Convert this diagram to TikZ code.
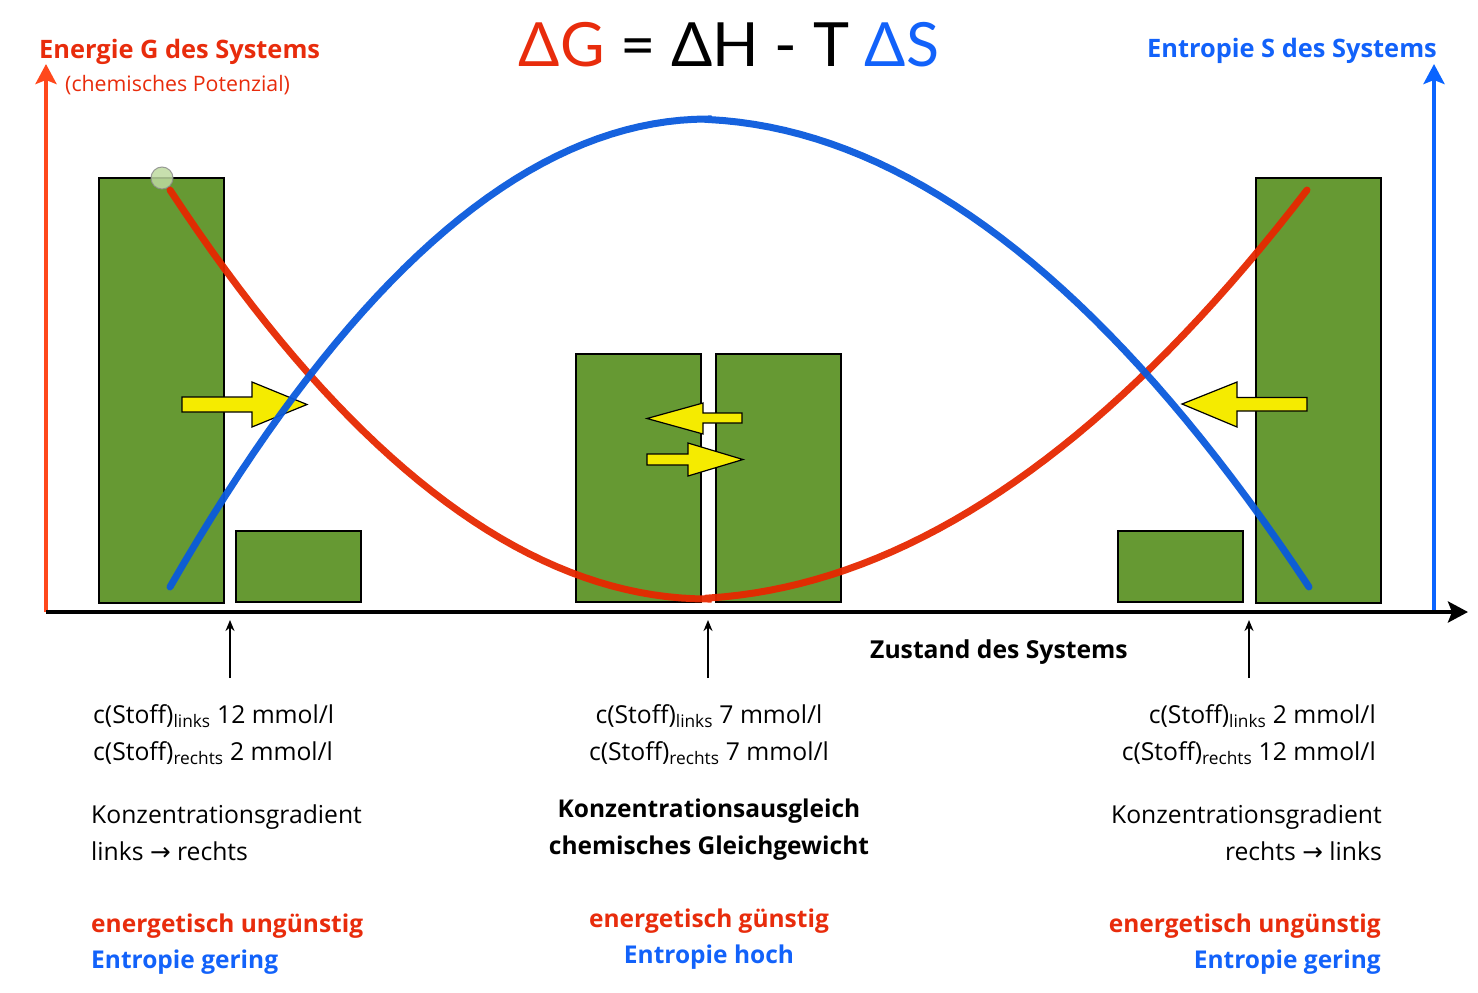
\documentclass[tikz,border=0pt]{standalone}
\usepackage{fontspec}
\setmainfont{Open Sans}
\newfontfamily\symfont{DejaVu Sans}
\newfontfamily\titlefont{Lato}
\usetikzlibrary{arrows.meta}

\definecolor{gred}{RGB}{232,44,12}
\definecolor{sblue}{RGB}{18,98,250}
\definecolor{axisred}{RGB}{255,72,28}
\definecolor{axisblue}{RGB}{10,100,255}
\definecolor{curvered}{RGB}{230,40,0}
\definecolor{curveblue}{RGB}{10,90,220}
\definecolor{boxgreen}{RGB}{102,153,51}
\definecolor{arrowyellow}{RGB}{245,235,0}

\begin{document}
\begin{tikzpicture}[x=1pt, y=-1pt,
  axis/.style={line width=4.5pt, -{Stealth[length=20pt, width=21pt, inset=4pt]}},
  pointer/.style={line width=1.6pt, -{Stealth[length=11pt, width=9pt]}},
  box/.style={draw=black, line width=1.2pt, fill=boxgreen},
  flowarrow/.style={draw=black, line width=1.2pt, fill=arrowyellow, line join=miter},
  curve/.style={line width=7pt, line cap=round, opacity=0.95},
  txt/.style={inner sep=0pt, font=\fontsize{24.7}{30}\selectfont},
  btxt/.style={inner sep=0pt, font=\fontsize{24.5}{30}\selectfont\bfseries},
  head/.style={inner sep=0pt, font=\fontsize{25.4}{30}\selectfont\bfseries}]
\useasboundingbox (0,0) rectangle (1478,993);

% Axes
\coordinate (origin) at (46,612);
\coordinate (gtop) at (46,64);
\coordinate (sbot) at (1434,612);
\coordinate (stop) at (1434,64);
\coordinate (xend) at (1468,612);
\draw[axis, axisred] (origin) -- (gtop); % G axis
\draw[axis, axisblue] (sbot) -- (stop); % S axis
\draw[axis, black] (origin) -- (xend); % state axis

% Compartments
\draw[box] (99,178) rectangle (224,603);
\draw[box] (236,531) rectangle (361,602);
\draw[box] (576,354) rectangle (701,602);
\draw[box] (716,354) rectangle (841,602);
\draw[box] (1118,531) rectangle (1243,602);
\draw[box] (1256,178) rectangle (1381,603);

% Flow of the substance
\draw[flowarrow] (182,397) -- (252,397) -- (252,382) -- (307,404.5) -- (252,427) -- (252,412) -- (182,412) -- cycle;
\draw[flowarrow] (1307,397.5) -- (1237,397.5) -- (1237,382) -- (1182,404) -- (1237,427) -- (1237,411) -- (1307,411) -- cycle;
\draw[flowarrow] (742,413) -- (703,413) -- (703,403) -- (647,418.5) -- (703,434) -- (703,423) -- (742,423) -- cycle;
\draw[flowarrow] (647,454) -- (688,454) -- (688,443) -- (743,459.5) -- (688,476) -- (688,465) -- (647,465) -- cycle;

% Curves G and S
\draw[curve, curvered] plot[domain=170:708, samples=40] (\x, {599-409*((\x-708)/538)*((\x-708)/538)})
  -- plot[domain=708:1307, samples=40] (\x, {599-409*((\x-678)/629)*((\x-678)/629)});
\draw[curve, curveblue] plot[domain=170:708, samples=40] (\x, {119+468*((\x-708)/538)*((\x-708)/538)})
  -- plot[domain=708:1309, samples=40] (\x, {119+468*((\x-688)/621)*((\x-688)/621)});
\node[circle, draw=black!45, line width=1pt, fill={rgb,255:red,190;green,218;blue,160}, opacity=0.85, minimum size=22pt, inner sep=0pt] (startdot) at (162,178) {};

% Headings
\node[inner sep=0pt, anchor=base, font=\titlefont\fontsize{61}{64}\selectfont] (formula) at (729,66) {\textcolor{gred}{ΔG} = ΔH - T \textcolor{sblue}{ΔS}};
\node[head, gred, anchor=base west] (glabel) at (39,58) {Energie G des Systems};
\node[inner sep=0pt, gred, anchor=base west, font=\fontsize{21.3}{26}\selectfont] (gsub) at (65,91) {(chemisches Potenzial)};
\node[head, sblue, anchor=base east] (slabel) at (1437,57) {Entropie S des Systems};
\node[btxt, anchor=base west, font=\fontsize{24.7}{30}\selectfont\bfseries] (xlabel) at (870,658) {Zustand des Systems};

% Markers on the axis
\coordinate (markL) at (230,620);
\coordinate (footL) at (230,678);
\coordinate (markM) at (708,620);
\coordinate (footM) at (708,678);
\coordinate (markR) at (1249,620);
\coordinate (footR) at (1249,678);
\draw[pointer] (footL) -- (markL);
\draw[pointer] (footM) -- (markM);
\draw[pointer] (footR) -- (markR);

% Left state
\node[txt, anchor=base west] (concL1) at (93,723) {c(Stoff)\textsubscript{links} 12 mmol/l};
\node[txt, anchor=base west] (concL2) at (93,760) {c(Stoff)\textsubscript{rechts} 2 mmol/l};
\node[txt, anchor=base west] (gradL1) at (91,823) {Konzentrationsgradient};
\node[txt, anchor=base west] (gradL2) at (91,860) {links {\symfont →} rechts};
\node[btxt, gred, anchor=base west] (energyL) at (91,932) {energetisch ungünstig};
\node[btxt, sblue, anchor=base west] (entropyL) at (91,968) {Entropie gering};

% Middle state
\node[txt, anchor=base] (concM1) at (709,723) {c(Stoff)\textsubscript{links} 7 mmol/l};
\node[txt, anchor=base] (concM2) at (709,760) {c(Stoff)\textsubscript{rechts} 7 mmol/l};
\node[btxt, anchor=base] (gradM1) at (709,817) {Konzentrationsausgleich};
\node[btxt, anchor=base] (gradM2) at (709,854) {chemisches Gleichgewicht};
\node[btxt, gred, anchor=base] (energyM) at (709,927) {energetisch günstig};
\node[btxt, sblue, anchor=base] (entropyM) at (709,963) {Entropie hoch};

% Right state
\node[txt, anchor=base east] (concR1) at (1376,723) {c(Stoff)\textsubscript{links} 2 mmol/l};
\node[txt, anchor=base east] (concR2) at (1376,760) {c(Stoff)\textsubscript{rechts} 12 mmol/l};
\node[txt, anchor=base east] (gradR1) at (1382,823) {Konzentrationsgradient};
\node[txt, anchor=base east] (gradR2) at (1382,860) {rechts {\symfont →} links};
\node[btxt, gred, anchor=base east] (energyR) at (1381,932) {energetisch ungünstig};
\node[btxt, sblue, anchor=base east] (entropyR) at (1381,968) {Entropie gering};
\end{tikzpicture}
\end{document}
